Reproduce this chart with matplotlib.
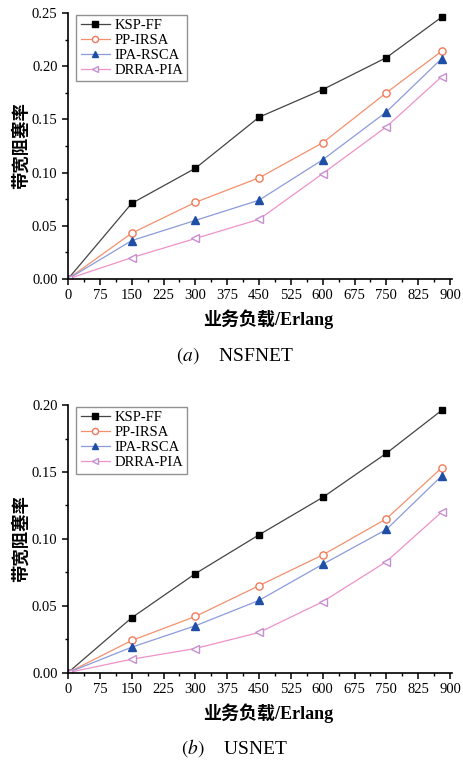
import numpy as np
import matplotlib
matplotlib.use("Agg")
import matplotlib.pyplot as plt
from matplotlib.ticker import MultipleLocator, AutoMinorLocator

plt.rcParams['font.family'] = ['Liberation Serif', 'Noto Sans CJK SC']
plt.rcParams['mathtext.fontset'] = 'stix'

# traffic load (Erlang)
loads = [0, 150, 300, 450, 600, 750, 880]
names = ['KSP-FF', 'PP-IRSA', 'IPA-RSCA', 'DRRA-PIA']

# (a) NSFNET
nsf_ksp = [0, 0.071, 0.104, 0.152, 0.178, 0.208, 0.246]
nsf_pp = [0, 0.043, 0.072, 0.095, 0.128, 0.175, 0.214]
nsf_ipa = [0, 0.036, 0.055, 0.074, 0.112, 0.157, 0.207]
nsf_drra = [0, 0.020, 0.038, 0.056, 0.099, 0.143, 0.190]

# (b) USNET
us_ksp = [0, 0.041, 0.074, 0.103, 0.131, 0.164, 0.196]
us_pp = [0, 0.024, 0.042, 0.065, 0.088, 0.115, 0.153]
us_ipa = [0, 0.019, 0.035, 0.054, 0.081, 0.107, 0.147]
us_drra = [0, 0.010, 0.018, 0.030, 0.053, 0.083, 0.120]

styles = [
    dict(color='#444444', marker='s', mfc='black', mec='black', ms=4.6),
    dict(color='#F4906E', marker='o', mfc='white', mec='#F07A5A', ms=5.2),
    dict(color='#8C9BDA', marker='^', mfc='#1F4EA6', mec='#1F4EA6', ms=5.6),
    dict(color='#EE92C8', marker='<', mfc='white', mec='#C68FD0', ms=5.8),
]

fig = plt.figure(figsize=(4.64, 7.6), dpi=100)
ax1 = fig.add_axes([0.1466, 0.633, 0.828, 0.350])
ax2 = fig.add_axes([0.1466, 0.115, 0.828, 0.352])


def draw(ax, series, ymax, caption, cap_y):
    for s, name, st in zip(series, names, styles):
        ax.plot(loads, s, lw=0.9, label=name, **st)
    ax.set_xlim(0, 905)
    ax.set_ylim(0, ymax)
    ax.xaxis.set_major_locator(MultipleLocator(75))
    ax.xaxis.set_minor_locator(AutoMinorLocator(2))
    ax.yaxis.set_major_locator(MultipleLocator(0.05))
    ax.yaxis.set_minor_locator(AutoMinorLocator(2))
    ax.yaxis.set_major_formatter(matplotlib.ticker.FormatStrFormatter('%.2f'))
    ax.spines['top'].set_visible(False)
    ax.spines['right'].set_visible(False)
    ax.spines['left'].set_linewidth(1.2)
    ax.spines['bottom'].set_linewidth(1.2)
    ax.tick_params(which='major', direction='out', length=4, width=1.1,
                   labelsize=10.5)
    ax.tick_params(which='minor', direction='out', length=2.5, width=1.0)
    ax.set_xlabel('业务负载/Erlang', fontsize=13, fontweight='bold')
    ax.xaxis.set_label_coords(0.52, -0.115)
    ax.set_ylabel('带宽阻塞率', fontsize=12.5, fontweight='bold')
    ax.yaxis.set_label_coords(-0.10, 0.5)
    leg = ax.legend(loc='upper left', bbox_to_anchor=(0.01, 1.01),
                    fontsize=10.5, frameon=True, fancybox=False,
                    borderpad=0.3, labelspacing=0.12, handlelength=2.0,
                    handletextpad=0.3, borderaxespad=0.3, markerscale=0.85)
    leg.get_frame().set_edgecolor('#777777')
    leg.get_frame().set_linewidth(1.0)
    fig.text(0.505, cap_y, caption, ha='center', va='center', fontsize=14)


draw(ax1, [nsf_ksp, nsf_pp, nsf_ipa, nsf_drra], 0.25,
     r'$(\mathit{a})$    NSFNET', 1 - 356 / 760)
draw(ax2, [us_ksp, us_pp, us_ipa, us_drra], 0.20,
     r'$(\mathit{b})$    USNET', 1 - 748 / 760)

fig.savefig('out.png', dpi=100)
